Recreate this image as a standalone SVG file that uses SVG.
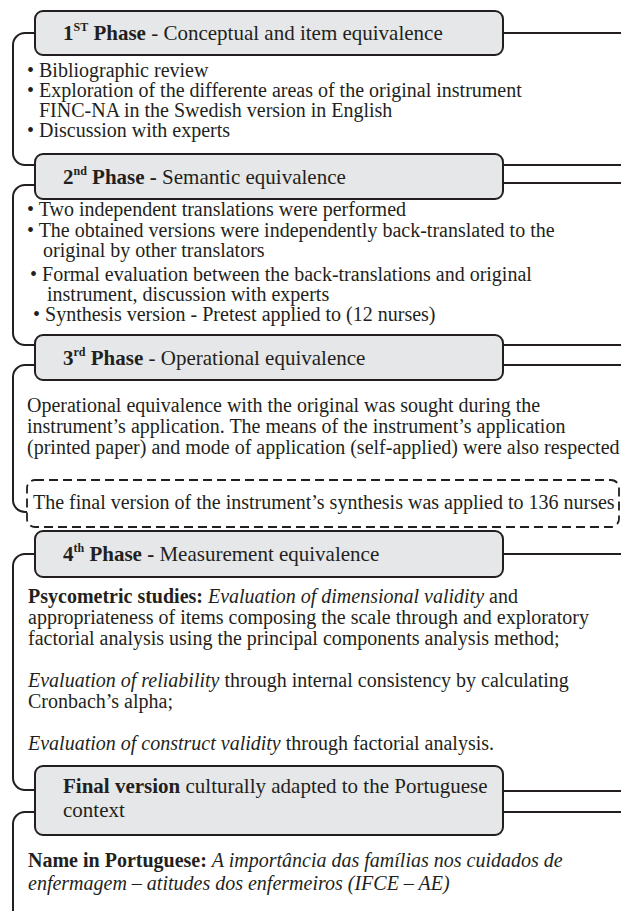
<svg xmlns="http://www.w3.org/2000/svg" width="621" height="911" viewBox="0 0 621 911">
<style>
.box{fill:#e6e7e8;stroke:#231f20;stroke-width:2}
.dash{fill:none;stroke:#231f20;stroke-width:1.8;stroke-dasharray:9 5}
.con{fill:none;stroke:#231f20;stroke-width:2}
text{font-family:"Liberation Serif","Times New Roman",serif;fill:#231f20}
.t{font-size:21px}
.b{font-size:20px}
.bd{font-weight:bold}
.it{font-style:italic}
</style>
<rect width="621" height="911" fill="#ffffff"/>
<g id="connectors">
<path class="con" d="M35 33 H25 A12 12 0 0 0 13 45 V153 A12 12 0 0 0 25 165 H35"/>
<path class="con" d="M35 185 H25 A12 12 0 0 0 13 197 V333 A12 12 0 0 0 25 345 H35"/>
<path class="con" d="M35 365 H25 A12 12 0 0 0 13 377 V500 A12 12 0 0 0 25 512 H27"/>
<path class="con" d="M35 554 H25 A12 12 0 0 0 13 566 V778 A12 12 0 0 0 25 790 H35"/>
<path class="con" d="M35 812 H25 A12 12 0 0 0 13 824 V915"/>
<path class="con" d="M503 33 H621 M503 165 H621 M503 183 H621 M503 345 H621 M503 365 H621 M503 554 H621 M503 791 H621 M503 812 H621"/>
</g>
<g id="phase1">
<rect class="box" x="35" y="11" width="468" height="44" rx="8"/>
<text class="t" x="63" y="40"><tspan class="bd">1</tspan><tspan class="bd" font-size="12" dy="-9">ST</tspan><tspan class="bd" dy="9"> Phase</tspan> - Conceptual and item equivalence</text>
</g>
<g id="phase1-body">
<text class="b" x="27" y="77">• Bibliographic review</text>
<text class="b" x="27" y="97">• Exploration of the differente areas of the original instrument</text>
<text class="b" x="39" y="117">FINC-NA in the Swedish version in English</text>
<text class="b" x="27" y="137">• Discussion with experts</text>
</g>
<g id="phase2">
<rect class="box" x="35" y="154" width="468" height="45" rx="8"/>
<text class="t" x="63" y="184"><tspan class="bd">2</tspan><tspan class="bd" font-size="12" dy="-9">nd</tspan><tspan class="bd" dy="9"> Phase - </tspan> Semantic equivalence</text>
</g>
<g id="phase2-body">
<text class="b" x="27" y="216">• Two independent translations were performed</text>
<text class="b" x="27" y="237">• The obtained versions were independently back-translated to the</text>
<text class="b" x="43" y="257">original by other translators</text>
<text class="b" x="30" y="281">•  Formal evaluation between the back-translations and original</text>
<text class="b" x="47" y="301">instrument, discussion with experts</text>
<text class="b" x="33" y="321">• Synthesis version - Pretest applied to (12 nurses)</text>
</g>
<g id="phase3">
<rect class="box" x="35" y="335" width="468" height="45" rx="8"/>
<text class="t" x="63" y="365"><tspan class="bd">3</tspan><tspan class="bd" font-size="12" dy="-9">rd</tspan><tspan class="bd" dy="9"> Phase</tspan> - Operational equivalence</text>
</g>
<g id="phase3-body">
<text class="b" x="27" y="412">Operational equivalence with the original was sought during the</text>
<text class="b" x="27" y="433">instrument’s application. The means of the instrument’s application</text>
<text class="b" x="27" y="454">(printed paper) and mode of application (self-applied) were also respected</text>
</g>
<g id="synthesis">
<rect class="dash" x="27" y="480" width="592" height="47" rx="8"/>
<text class="b" x="33" y="509">The final version of the instrument’s synthesis was applied to 136 nurses</text>
</g>
<g id="phase4">
<rect class="box" x="35" y="531" width="468" height="46" rx="8"/>
<text class="t" x="63" y="561"><tspan class="bd">4</tspan><tspan class="bd" font-size="12" dy="-9">th</tspan><tspan class="bd" dy="9"> Phase - </tspan>Measurement equivalence</text>
</g>
<g id="phase4-body">
<text class="b" x="28" y="603"><tspan class="bd">Psycometric studies:</tspan> <tspan class="it">Evaluation of dimensional validity</tspan> and</text>
<text class="b" x="28" y="624">appropriateness of items composing the scale through and exploratory</text>
<text class="b" x="28" y="645">factorial analysis using the principal components analysis method;</text>
<text class="b" x="28" y="687"><tspan class="it">Evaluation of reliability</tspan> through internal consistency by calculating</text>
<text class="b" x="28" y="708">Cronbach’s alpha;</text>
<text class="b" x="28" y="750"><tspan class="it">Evaluation of construct validity</tspan> through factorial analysis.</text>
</g>
<g id="final">
<rect class="box" x="35" y="766" width="468" height="69" rx="8"/>
<text class="t" x="63" y="793"><tspan class="bd">Final version</tspan> culturally adapted to the Portuguese</text>
<text class="t" x="63" y="817">context</text>
</g>
<g id="final-body">
<text class="b" x="28" y="867"><tspan class="bd">Name in Portuguese:</tspan> <tspan class="it">A importância das famílias nos cuidados de</tspan></text>
<text class="b it" x="28" y="890">enfermagem – atitudes dos enfermeiros (IFCE – AE)</text>
</g>
</svg>
